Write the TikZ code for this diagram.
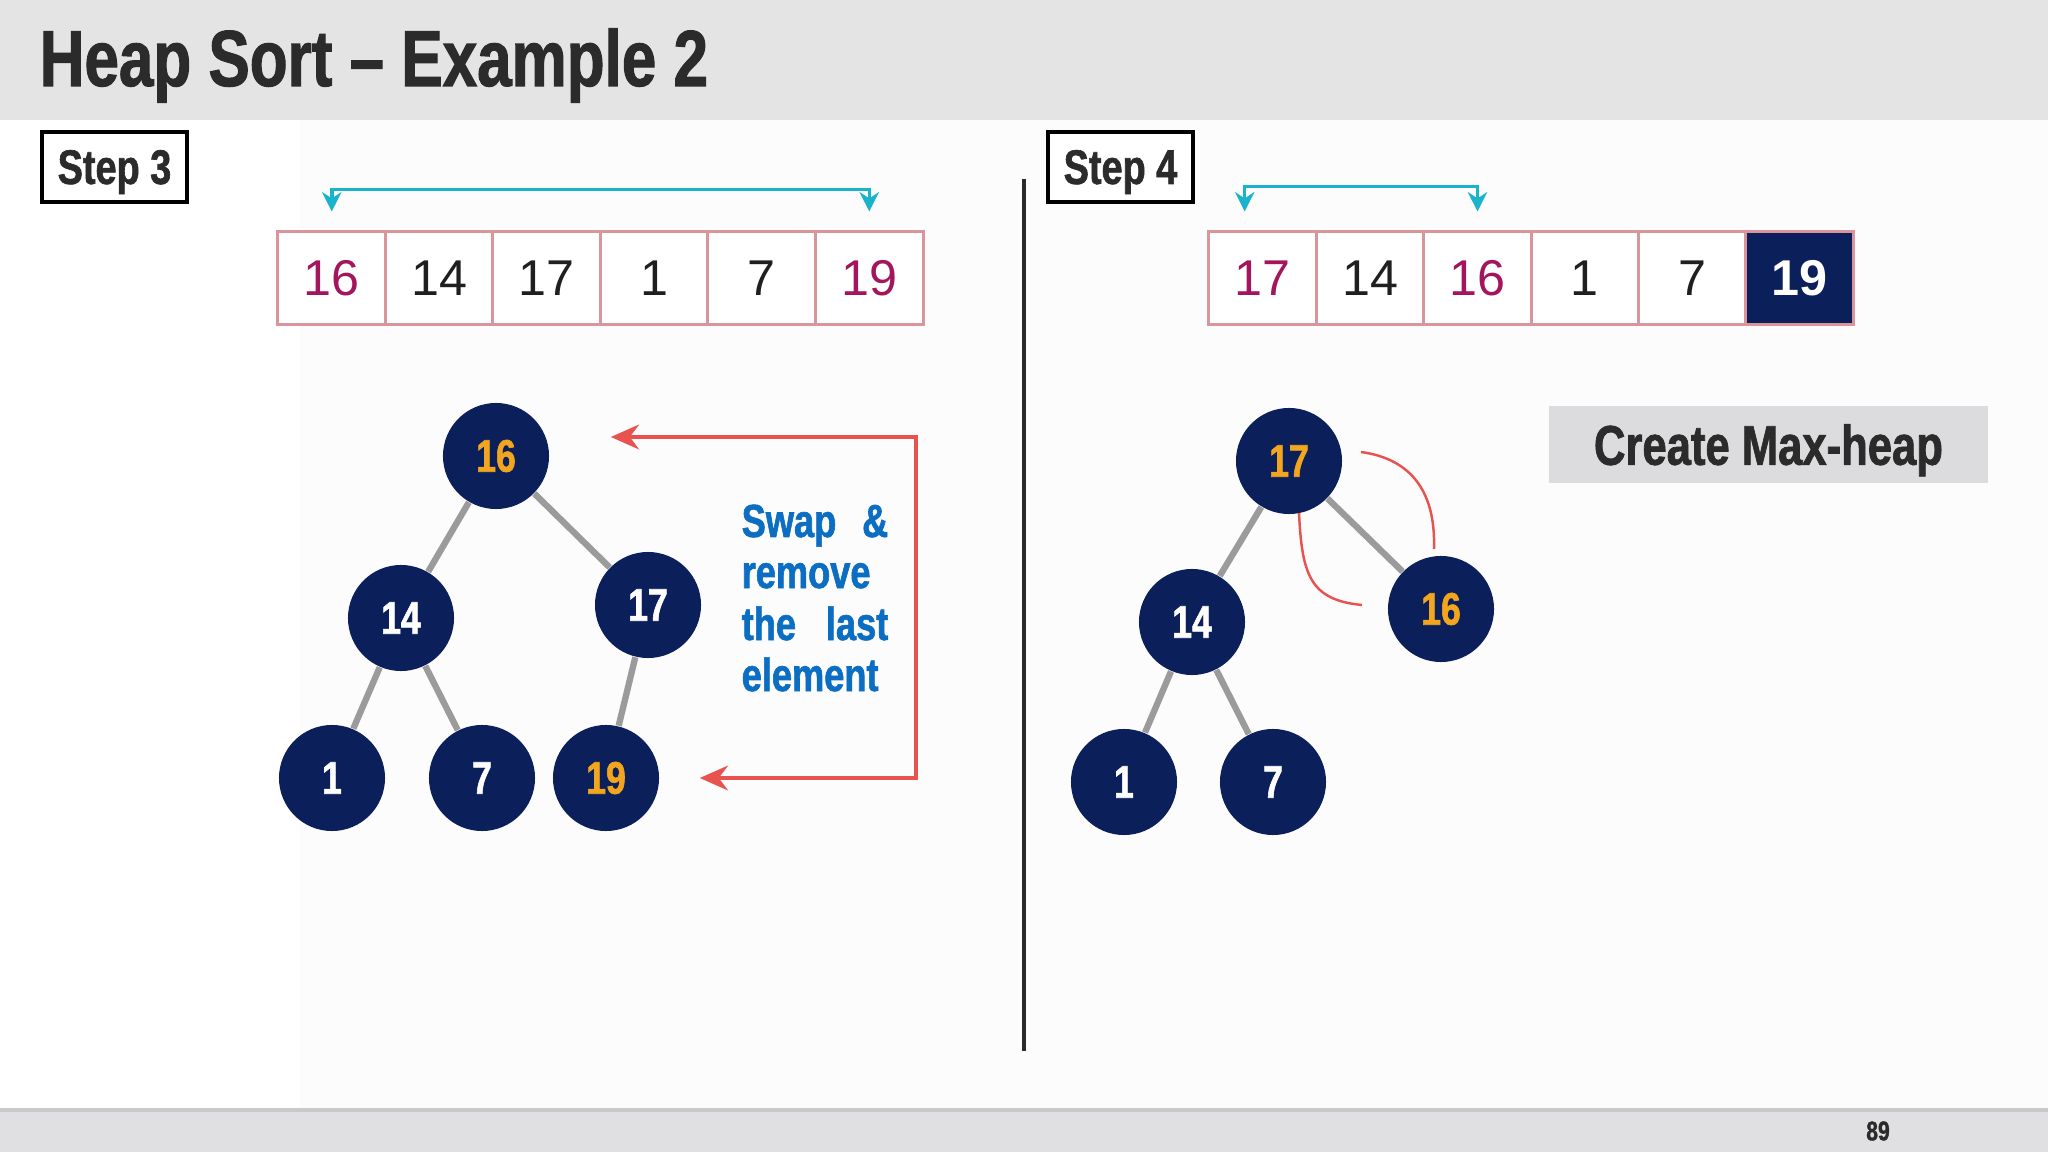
\documentclass[tikz,border=0pt]{standalone}
\usepackage{fontspec}
\usetikzlibrary{arrows.meta}
\setmainfont{Liberation Sans}
\newfontfamily\condfont[FakeStretch=0.78, BoldFeatures={FakeBold=1.3}]{Liberation Sans}
\definecolor{navy}{HTML}{0B1F5B}
\definecolor{hotorange}{HTML}{F2A51E}
\definecolor{edgegray}{HTML}{9B9B9B}
\definecolor{magentatxt}{HTML}{A3155C}
\definecolor{cellpink}{HTML}{D9959A}
\definecolor{bracketcyan}{HTML}{19B3CC}
\definecolor{swapred}{HTML}{E8524F}
\definecolor{bluetxt}{HTML}{0B6EC2}
\definecolor{headgray}{HTML}{E4E4E4}
\definecolor{footgray}{HTML}{E0DFE1}
\definecolor{footline}{HTML}{C9C9C9}
\definecolor{boxgray}{HTML}{DCDCDE}
\definecolor{textdark}{HTML}{2B2B2B}
\definecolor{offwhite}{HTML}{FCFCFC}
\begin{document}
\begin{tikzpicture}[x=0.01cm,y=-0.01cm,
  heapnode/.style={circle, fill=navy, minimum size=1.06cm, inner sep=0pt, text=white,
    font=\condfont\bfseries\fontsize{13}{13}\selectfont},
  hot/.style={text=hotorange},
  cell/.style={draw=cellpink, line width=0.85pt, fill=white, minimum width=1.075cm,
    minimum height=0.92cm, inner sep=0pt, text=black!88, font=\fontsize{14.3}{14}\selectfont},
  pick/.style={text=magentatxt},
  donecell/.style={fill=navy, text=white, font=\bfseries\fontsize{14.3}{14}\selectfont},
  treeedge/.style={draw=edgegray, line width=1.8pt},
  stepbox/.style={draw=black, line width=1.2pt, fill=white, minimum width=1.45cm,
    minimum height=0.70cm, inner sep=0pt, text depth=0pt, text=textdark,
    font=\condfont\bfseries\fontsize{13.8}{14}\selectfont},
  bracket/.style={draw=bracketcyan, line width=1pt, {Stealth[length=5.5pt,width=5.5pt]}-{Stealth[length=5.5pt,width=5.5pt]}},
  redarrow/.style={draw=swapred, line width=1.3pt, {Stealth[length=8pt,width=7pt]}-{Stealth[length=8pt,width=7pt]}},
  swapcurve/.style={draw=swapred, line width=0.7pt},
  bluelabel/.style={inner sep=0pt, text=bluetxt, font=\condfont\bfseries\fontsize{13.2}{14}\selectfont}
]
\useasboundingbox (0,0) rectangle (2048,1152);
% backgrounds
\fill[white] (0,0) rectangle (2048,1152);
\fill[offwhite] (300,120) rectangle (2048,1109);
\fill[headgray] (0,0) rectangle (2048,120);
\fill[footgray] (0,1109) rectangle (2048,1152);
\draw[footline, line width=1.2pt] (0,1110) -- (2048,1110);

% title
\node[anchor=base west, inner sep=0pt, text=textdark,
  font=\condfont\bfseries\fontsize{22.6}{24}\selectfont] (title) at (39,86) {Heap Sort – Example 2};

% step boxes
\node[stepbox] (step3) at (114.5,167) {Step 3};
\node[stepbox] (step4) at (1120.5,167) {Step 4};

% divider
\coordinate (divtop) at (1024,179);
\coordinate (divbot) at (1024,1051);
\draw[textdark, line width=1.2pt] (divtop) -- (divbot);

% ---------- Step 3 array ----------
\node[cell, pick] (a1) at (331.75,278) {16};
\node[cell] (a2) at (439.25,278) {14};
\node[cell] (a3) at (546.75,278) {17};
\node[cell] (a4) at (654.25,278) {1};
\node[cell] (a5) at (761.75,278) {7};
\node[cell, pick] (a6) at (869.25,278) {19};
\draw[bracket] ([yshift=0.19cm]a1.north) -- ++(0,-22) -| ([yshift=0.19cm]a6.north);

% ---------- Step 4 array ----------
\node[cell, pick] (b1) at (1262.7,278) {17};
\node[cell] (b2) at (1370.1,278) {14};
\node[cell, pick] (b3) at (1477.5,278) {16};
\node[cell] (b4) at (1584.9,278) {1};
\node[cell] (b5) at (1692.3,278) {7};
\node[cell, donecell] (b6) at (1799.7,278) {19};
\draw[bracket] ([xshift=-0.18cm,yshift=0.19cm]b1.north) -- ++(0,-25) -| ([yshift=0.19cm]b3.north);

% ---------- Step 3 tree ----------
\node[heapnode, hot] (t16) at (496,456) {16};
\node[heapnode] (t14) at (401,618) {14};
\node[heapnode] (t17) at (648,605) {17};
\node[heapnode] (t1) at (332,778) {1};
\node[heapnode] (t7) at (482,778) {7};
\node[heapnode, hot] (t19) at (606,778) {19};
\draw[treeedge] (t16) -- (t14);
\draw[treeedge] (t16) -- (t17);
\draw[treeedge] (t14) -- (t1);
\draw[treeedge] (t14) -- (t7);
\draw[treeedge] (t17) -- (t19);

\draw[redarrow] ([xshift=0.61cm,yshift=0.19cm]t16.east) -| ([xshift=2.56cm]t19.east) -- ([xshift=0.40cm]t19.east);

\node[bluelabel, anchor=base west] (sw1) at (741,537) {Swap};
\node[bluelabel, anchor=base east] (sw2) at (889,537) {\&};
\node[bluelabel, anchor=base west] (sw3) at (741,588) {remove};
\node[bluelabel, anchor=base west] (sw4) at (741,640) {the};
\node[bluelabel, anchor=base east] (sw5) at (889,640) {last};
\node[bluelabel, anchor=base west] (sw6) at (741,691) {element};

% ---------- Step 4 tree ----------
\node[heapnode, hot] (u17) at (1289,461) {17};
\node[heapnode] (u14) at (1192,622) {14};
\node[heapnode, hot] (u16) at (1441,609) {16};
\node[heapnode] (u1) at (1124,782) {1};
\node[heapnode] (u7) at (1273,782) {7};
\draw[treeedge] (u17) -- (u14);
\draw[treeedge] (u17) -- (u16);
\draw[treeedge] (u14) -- (u1);
\draw[treeedge] (u14) -- (u7);

\coordinate (c1a) at (1361,452);
\coordinate (c1b) at (1434,549);
\coordinate (c2a) at (1299,513);
\coordinate (c2b) at (1362,605);
\draw[swapcurve] (c1a) .. controls (1405,458) and (1436,485) .. (c1b);
\draw[swapcurve] (c2a) .. controls (1302,575) and (1310,600) .. (c2b);

\node[fill=boxgray, minimum width=4.39cm, minimum height=0.77cm, inner sep=0pt, text depth=0pt, text=textdark,
  font=\condfont\bfseries\fontsize{15.9}{16}\selectfont] (maxheap) at (1768.5,444.5) {Create Max-heap};

% page number
\node[inner sep=0pt, text=textdark, font=\condfont\bfseries\fontsize{7.7}{8}\selectfont] (pagenum) at (1878,1131) {89};
\end{tikzpicture}
\end{document}
